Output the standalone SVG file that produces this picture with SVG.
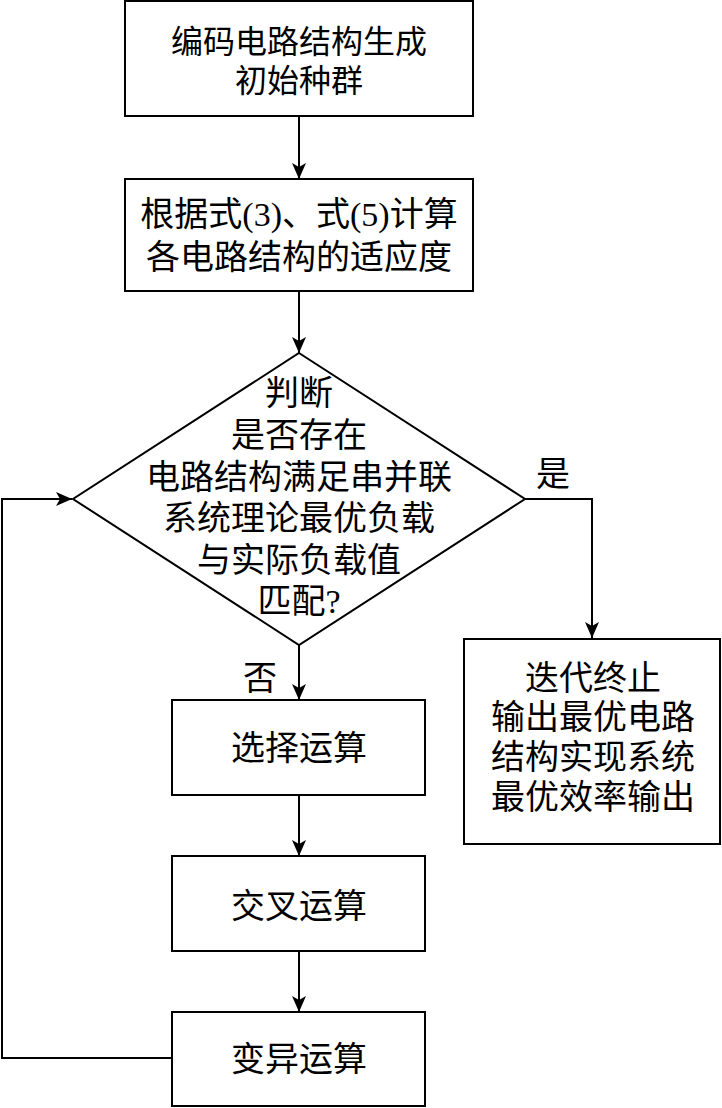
<svg xmlns="http://www.w3.org/2000/svg" width="722" height="1108" viewBox="0 0 722 1108">
<defs>
<marker id="arr" markerUnits="userSpaceOnUse" markerWidth="16" markerHeight="14" viewBox="0 0 16 14" refX="16" refY="7" orient="auto">
<path d="M0,0 L16,7 L0,14 L4,7 Z" fill="#000"/>
</marker>
</defs>
<style>
.box{fill:#fff;stroke:#000;stroke-width:2}
.t{font-family:"Liberation Serif","Noto Sans CJK SC",serif;font-size:34px;fill:#000;text-anchor:middle}
.c{fill:none;stroke:#000;stroke-width:2;marker-end:url(#arr)}
</style>
<rect width="722" height="1108" fill="#fff"/>
<g id="connectors">
<path class="c" d="M299,116 V179"/>
<path class="c" d="M299,291 V353"/>
<path class="c" d="M524,499 H592 V638"/>
<path class="c" d="M299,645 V700"/>
<path class="c" d="M299,795 V856"/>
<path class="c" d="M299,951 V1012"/>
<path class="c" d="M172,1058 H2 V499 H72"/>
<text class="t" x="553" y="486">是</text>
<text class="t" x="260" y="690">否</text>
</g>
<g id="n1">
<rect class="box" x="125" y="1" width="348" height="115"/>
<text class="t" x="299" y="53" style="font-size:32px">编码电路结构生成</text>
<text class="t" x="299" y="92" style="font-size:32px">初始种群</text>
</g>
<g id="n2">
<rect class="box" x="125" y="179" width="348" height="112"/>
<text class="t" x="299" y="226">根据式(3)、式(5)计算</text>
<text class="t" x="299" y="269">各电路结构的适应度</text>
</g>
<g id="n3">
<polygon class="box" points="299,353 525,499 299,645 73,499"/>
<text class="t" x="299" y="405">判断</text>
<text class="t" x="299" y="447">是否存在</text>
<text class="t" x="299" y="489">电路结构满足串并联</text>
<text class="t" x="299" y="530">系统理论最优负载</text>
<text class="t" x="299" y="572">与实际负载值</text>
<text class="t" x="299" y="613">匹配?</text>
</g>
<g id="n4">
<rect class="box" x="464" y="639" width="256" height="205"/>
<text class="t" x="593" y="690">迭代终止</text>
<text class="t" x="593" y="729">输出最优电路</text>
<text class="t" x="593" y="769">结构实现系统</text>
<text class="t" x="593" y="809">最优效率输出</text>
</g>
<g id="n5">
<rect class="box" x="172" y="700" width="253" height="95"/>
<text class="t" x="299" y="760">选择运算</text>
</g>
<g id="n6">
<rect class="box" x="172" y="856" width="253" height="95"/>
<text class="t" x="299" y="918">交叉运算</text>
</g>
<g id="n7">
<rect class="box" x="172" y="1012" width="253" height="94"/>
<text class="t" x="299" y="1071">变异运算</text>
</g>
</svg>
